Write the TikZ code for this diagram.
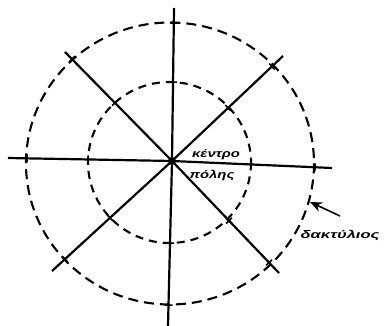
\documentclass[tikz,border=0pt]{standalone}
\usepackage{fontspec}
\setmainfont{Liberation Sans}
\usetikzlibrary{arrows.meta}
\newcommand{\wide}[2]{\scalebox{#1}[1]{#2}}
\begin{document}
\begin{tikzpicture}[x=1pt, y=-1pt,
  every node/.style={font=\fontsize{11}{13}\selectfont\itshape\bfseries},
  ring/.style={line width=2.1pt},
  axis/.style={line width=2.2pt},
  tick/.style={sloped, draw, line width=1.6pt, minimum width=0pt, minimum height=8pt, inner sep=0pt}]
\useasboundingbox (0,0) rectangle (384,326);
% the two rings
\draw[ring, dash pattern=on 10pt off 6pt] (170,163.5) ellipse [x radius=144, y radius=141];
\draw[ring, dash pattern=on 8pt off 6pt] (169.5,162.5) ellipse [x radius=81.5, y radius=80.5];
% radial roads
\coordinate (c) at (172,161);
\coordinate (n) at (174,8);
\coordinate (s) at (168,326);
\coordinate (w) at (8,158);
\coordinate (e) at (332,168);
\coordinate (nw) at (65,52);
\coordinate (ne) at (283,56);
\coordinate (sw) at (52,271);
\coordinate (se) at (279,273);
\foreach \e/\a/\b in {n/0.516/0.902, s/0.497/0.873, w/0.512/0.884, e/0.494/0.894,
                      nw/0.533/0.935, ne/0.505/0.9, sw/0.517/0.892, se/0.533/0.907}
  \draw[axis] (c) -- (\e) node[tick, pos=\a] {} node[tick, pos=\b] {};
\fill (c) circle (4);
% labels
\node (ctr) at (216,155) {\wide{1.35}{κέντρο}};
\node (pol) at (212,176) {\wide{1.35}{πόλης}};
\node (lbl) at (340,235) {\wide{1.5}{δακτύλιος}};
\coordinate (tail) at (340,216);
\coordinate (hit) at (310,202);
\draw[-{Stealth[length=12pt,width=10pt]}, line width=1.6pt] (tail) -- (hit);
\end{tikzpicture}
\end{document}
